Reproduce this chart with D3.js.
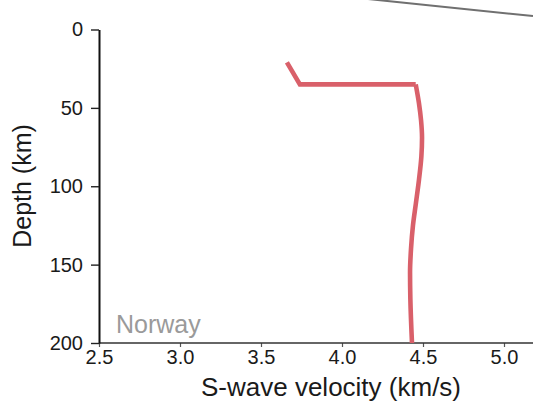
<!DOCTYPE html>
<html><head><meta charset="utf-8">
<script src="https://cdn.jsdelivr.net/npm/d3@7"></script>
<style>body{margin:0;background:#fff;}svg{display:block;}</style>
</head><body>
<script>
const depthKm   = [21, 35, 35, 47, 58, 69, 81, 96, 111, 125, 140, 155, 172, 200];
const vsKms     = [3.66, 3.74, 4.455, 4.475, 4.488, 4.494, 4.49, 4.475, 4.456, 4.438, 4.426, 4.42, 4.422, 4.432];
const xTicks    = [2.5, 3.0, 3.5, 4.0, 4.5, 5.0];
const yTicks    = [0, 50, 100, 150, 200];
const regionLabel = "Norway";
const xTitle = "S-wave velocity (km/s)";
const yTitle = "Depth (km)";

const W = 533, H = 406;
const font = "'Liberation Sans', Arial, Helvetica, sans-serif";
const svg = d3.select("body").append("svg").attr("width", W).attr("height", H);

const x = d3.scaleLinear().domain([2.5, 5.0]).range([99, 504]);
const y = d3.scaleLinear().domain([0, 200]).range([29.5, 343]);

// decorative grey line at top right
svg.append("line").attr("x1", 368).attr("y1", -1).attr("x2", 533).attr("y2", 16)
  .attr("stroke", "#707070").attr("stroke-width", 2);

// x axis
const gx = svg.append("g").attr("transform", `translate(0,${y(200)})`)
  .call(d3.axisBottom(x).tickValues(xTicks).tickFormat(d3.format(".1f")).tickSize(4).tickPadding(3).tickSizeOuter(0));
gx.select(".domain").remove();
gx.append("line").attr("x1", x(2.5)).attr("x2", W).attr("stroke", "#333").attr("stroke-width", 1.6);
gx.selectAll(".tick line").attr("stroke", "#555").attr("stroke-width", 1.2);
gx.selectAll("text").attr("font-family", font).attr("font-size", 20).attr("fill", "#1a1a1a");

// y axis
const gy = svg.append("g").attr("transform", `translate(${x(2.5)},0)`)
  .call(d3.axisLeft(y).tickValues(yTicks).tickSize(8).tickPadding(8).tickSizeOuter(0));
gy.select(".domain").attr("stroke", "#111").attr("stroke-width", 2);
gy.selectAll(".tick line").attr("stroke", "#222").attr("stroke-width", 1.4);
gy.selectAll("text").attr("font-family", font).attr("font-size", 20).attr("fill", "#1a1a1a");

// titles
svg.append("text").attr("x", 331).attr("y", 396).attr("text-anchor", "middle")
  .attr("font-family", font).attr("font-size", 26).attr("fill", "#1a1a1a").text(xTitle);
svg.append("text").attr("transform", "translate(31,186) rotate(-90)").attr("text-anchor", "middle")
  .attr("font-family", font).attr("font-size", 25).attr("fill", "#1a1a1a").text(yTitle);

svg.append("text").attr("x", 116).attr("y", 333)
  .attr("font-family", font).attr("font-size", 25).attr("fill", "#9a9a9a").text(regionLabel);

// profile
const pts = depthKm.map((d, i) => ({d, v: vsKms[i]}));
const red = "#d9606a";
const lineLin = d3.line().x(p => x(p.v)).y(p => y(p.d));
svg.append("path").attr("d", lineLin(pts.slice(0, 3)))
  .attr("fill", "none").attr("stroke", red).attr("stroke-width", 4.6).attr("stroke-linejoin", "miter");
const lineSmooth = d3.line().x(p => x(p.v)).y(p => y(p.d)).curve(d3.curveMonotoneY);
svg.append("path").attr("d", lineSmooth(pts.slice(2)))
  .attr("fill", "none").attr("stroke", red).attr("stroke-width", 4.6);
</script>
</body></html>
